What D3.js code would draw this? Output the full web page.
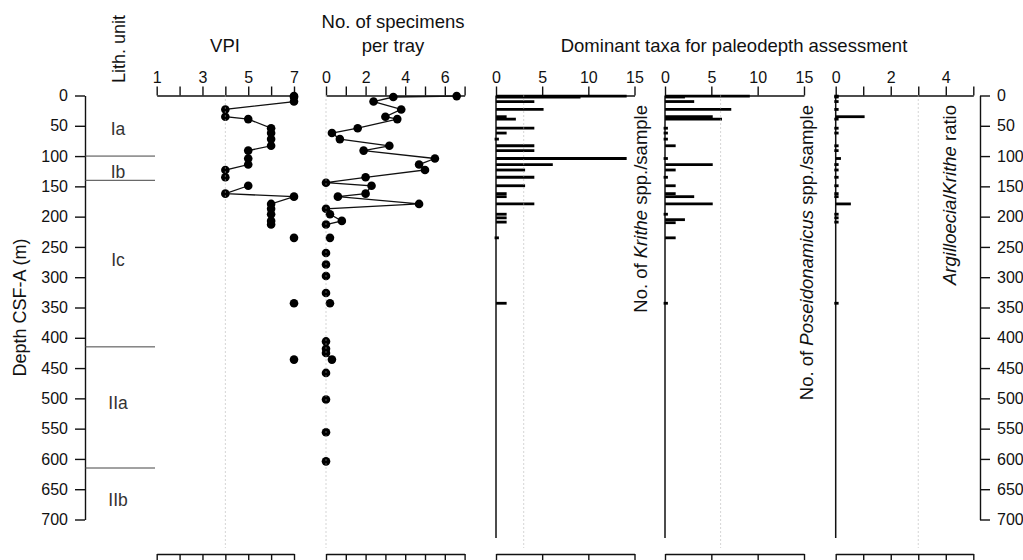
<!DOCTYPE html>
<html>
<head>
<meta charset="utf-8">
<script src="https://cdn.jsdelivr.net/npm/d3@7"></script>
<style>
  body { margin: 0; background: #fff; }
  svg { display: block; font-family: "Liberation Sans", Arial, Helvetica, sans-serif; }
</style>
</head>
<body>
<svg id="chart" width="1023" height="560"></svg>
<script>
// ---- Data -------------------------------------------------------------
// Core-catcher samples (depth, m CSF-A) with visual preservation index and specimen counts
const sampleDepth = [1, 2.5, 10, 23, 35, 39, 54, 62, 72, 83, 91, 104, 114, 123, 135, 144, 149, 162, 167, 179,
                     187, 196, 207, 213, 235, 260, 279, 298, 326, 343, 406, 418, 425, 436, 458, 502, 556, 604];
const vpi = [7, 7, 7, 4, 4, 5, 6, 6, 6, 6, 5, 5, 5, 4, 4, null, 5, 4, 7, 6,
             6, 6, 6, 6, 7, null, null, null, null, 7, null, null, null, 7, null, null, null, null];
const specimens = [6.6, 3.4, 2.4, 3.8, 3.0, 3.6, 1.6, 0.3, 0.7, 3.2, 1.9, 5.5, 4.7, 5.0, 2.0, 0, 2.3, 2.0, 0.6, 4.7,
                   0, 0.2, 0.8, 0, 0.2, 0, 0, 0, 0, 0.2, 0, 0, 0, 0.3, 0, 0, 0, 0];

// Krithe spp. per sample
const kritheDepth = [1, 2.5, 10, 23, 35, 39, 54, 62, 72, 83, 91, 104, 114, 123, 135, 149, 162, 167, 179, 196, 202, 209, 235, 343];
const kritheCount = [14, 9, 4, 5, 1, 2, 4, 1, 0, 4, 4, 14, 6, 3, 4, 3, 1, 1, 4, 1, 1, 1, 0, 1];

// Poseidonamicus spp. per sample
const poseiDepth = [1, 2.5, 10, 23, 35, 39, 54, 62, 72, 83, 104, 114, 123, 135, 149, 162, 167, 179, 196, 205, 210, 235, 343];
const poseiCount = [9, 2, 3, 7, 5, 6, 0, 0, 0, 1, 0, 5, 1, 0, 1, 1, 3, 5, 0, 2, 1, 1, 0];

// Argilloecia / Krithe ratio
const ratioDepth = [1, 2.5, 10, 23, 35, 39, 54, 62, 83, 91, 104, 114, 123, 135, 149, 162, 167, 179, 196, 202, 209, 343];
const ratioValue = [0, 0, 0, 0, 1, 0, 0, 0, 0, 0, 0.14, 0, 0, 0, 0, 0, 0, 0.5, 0, 0, 0, 0];

// Lithologic units
const unitNames = ["Ia", "Ib", "Ic", "IIa", "IIb"];
const unitLabelDepth = [55, 126, 271, 508, 667];
const unitBoundaries = [100, 140, 415, 615];

// Axis ticks
const depthTicks = d3.range(0, 701, 50);
const vpiTicks = [1, 2, 3, 4, 5, 6, 7], vpiLabels = [1, 3, 5, 7];
const specTicks = [0, 1, 2, 3, 4, 5, 6, 7], specLabels = [0, 2, 4, 6];
const countTicks = [0, 5, 10, 15];
const ratioTicks = [0, 1, 2, 3, 4, 5], ratioLabels = [0, 2, 4];

// Reference lines
const vpiRef = 4, specRef = 0, kritheRef = 3, poseiRef = 6, ratioRef = 3;

// ---- Layout -----------------------------------------------------------
const svg = d3.select("#chart");
const TOP = 95.5, BOTTOM_AXIS = 554, REF_END = 548, BAR_AXIS_END = 538;
const ink = "#111";
const TICK_FONT = 16, TITLE_FONT = 18.5;

const y = d3.scaleLinear().domain([0, 700]).range([TOP, 519.5]);
const xVpi = d3.scaleLinear().domain([1, 7]).range([156.7, 294]);
const xSpec = d3.scaleLinear().domain([0, 7]).range([326, 464.6]);
const xKr = d3.scaleLinear().domain([0, 15]).range([496, 634.5]);
const xPo = d3.scaleLinear().domain([0, 15]).range([665, 804]);
const xRa = d3.scaleLinear().domain([0, 5]).range([835.7, 973.3]);

function styleAxis(g, size) {
  g.attr("font-family", null).attr("font-size", null);
  g.selectAll("path.domain").attr("stroke", ink).attr("stroke-width", 1.4);
  g.selectAll(".tick line").attr("stroke", ink).attr("stroke-width", 1.4);
  g.selectAll(".tick text").attr("fill", ink).style("font-size", size + "px");
}

function topAxis(scale, ticks, labels) {
  const g = svg.append("g").attr("transform", `translate(0,${TOP})`)
    .call(d3.axisTop(scale).tickValues(ticks).tickSize(9).tickSizeOuter(0).tickPadding(4)
      .tickFormat(d => labels.includes(d) ? d : ""));
  styleAxis(g, TICK_FONT);
}
function bottomAxis(scale, ticks) {
  const g = svg.append("g").attr("transform", `translate(0,${BOTTOM_AXIS})`)
    .call(d3.axisBottom(scale).tickValues(ticks).tickSize(9).tickSizeOuter(0).tickFormat(""));
  styleAxis(g, TICK_FONT);
}

// ---- Depth axes -------------------------------------------------------
const leftAx = svg.append("g").attr("transform", "translate(85,0)")
  .call(d3.axisLeft(y).tickValues(depthTicks).tickSize(10).tickSizeOuter(0).tickPadding(7));
styleAxis(leftAx, TICK_FONT);
const rightAx = svg.append("g").attr("transform", "translate(980,0)")
  .call(d3.axisRight(y).tickValues(depthTicks).tickSize(10).tickSizeOuter(0).tickPadding(7));
styleAxis(rightAx, TICK_FONT);

svg.append("text")
  .attr("transform", `translate(26,${(y(0) + y(700)) / 2}) rotate(-90)`)
  .attr("text-anchor", "middle").attr("fill", ink).style("font-size", "18px")
  .text("Depth CSF-A (m)");

// ---- Lithologic units -------------------------------------------------
svg.append("text")
  .attr("transform", "translate(125,83) rotate(-90)")
  .attr("fill", ink).style("font-size", "18px").text("Lith. unit");

svg.selectAll("line.unit").data(unitBoundaries).join("line").attr("class", "unit")
  .attr("x1", 85).attr("x2", 155).attr("y1", d => y(d)).attr("y2", d => y(d))
  .attr("stroke", "#444").attr("stroke-width", 1);

svg.selectAll("text.unit").data(unitNames).join("text").attr("class", "unit")
  .attr("x", 118).attr("y", (d, i) => y(unitLabelDepth[i])).attr("dy", "0.35em")
  .attr("text-anchor", "middle").attr("fill", "#333").style("font-size", "17.5px")
  .text(d => d);

// ---- Titles -----------------------------------------------------------
const titles = [
  { x: 225, y: 52, t: "VPI" },
  { x: 393, y: 28, t: "No. of specimens" },
  { x: 393, y: 52, t: "per tray" },
  { x: 734, y: 52, t: "Dominant taxa for paleodepth assessment" }
];
svg.selectAll("text.title").data(titles).join("text").attr("class", "title")
  .attr("x", d => d.x).attr("y", d => d.y).attr("text-anchor", "middle")
  .attr("fill", ink).style("font-size", TITLE_FONT + "px").text(d => d.t);

// ---- Axes of the data panels -----------------------------------------
topAxis(xVpi, vpiTicks, vpiLabels);       bottomAxis(xVpi, vpiTicks);
topAxis(xSpec, specTicks, specLabels);    bottomAxis(xSpec, specTicks);
topAxis(xKr, countTicks, countTicks);     bottomAxis(xKr, countTicks);
topAxis(xPo, countTicks, countTicks);     bottomAxis(xPo, countTicks);
topAxis(xRa, ratioTicks, ratioLabels);    bottomAxis(xRa, ratioTicks);

// Baselines of the bar panels
[xKr, xPo, xRa].forEach(sc => {
  svg.append("line").attr("x1", sc(0)).attr("x2", sc(0)).attr("y1", TOP).attr("y2", BAR_AXIS_END)
    .attr("stroke", ink).attr("stroke-width", 1.5);
});

// ---- Point series with connecting lines ------------------------------
function series(depths, values) {
  const out = [];
  let prev = null;
  depths.forEach((d, i) => {
    const v = values[i];
    if (v === null) { out.push(null); prev = null; return; }
    if (prev !== null && d - prev > 15) out.push(null);
    out.push({ d, v });
    prev = d;
  });
  return out;
}

function drawPoints(scale, depths, values) {
  const pts = series(depths, values);
  const line = d3.line().defined(p => p !== null).x(p => scale(p.v)).y(p => y(p.d));
  svg.append("path").datum(pts).attr("d", line)
    .attr("fill", "none").attr("stroke", ink).attr("stroke-width", 1.3);
  svg.append("g").selectAll("circle").data(pts.filter(p => p !== null)).join("circle")
    .attr("cx", p => scale(p.v)).attr("cy", p => y(p.d)).attr("r", 4.3).attr("fill", "#000");
}
drawPoints(xVpi, sampleDepth, vpi);
drawPoints(xSpec, sampleDepth, specimens);

// ---- Bar series -------------------------------------------------------
function drawBars(scale, depths, values) {
  svg.append("g").selectAll("line").data(depths).join("line")
    .attr("x1", scale(0) + 1.5).attr("x2", (d, i) => scale(values[i]))
    .attr("y1", d => y(d)).attr("y2", d => y(d))
    .attr("stroke", "#000").attr("stroke-width", 2.8).attr("stroke-linecap", "square");
}
drawBars(xKr, kritheDepth, kritheCount);
drawBars(xPo, poseiDepth, poseiCount);
drawBars(xRa, ratioDepth, ratioValue);

// ---- Dotted reference lines (drawn over the marks) -------------------
[[xVpi, vpiRef], [xSpec, specRef], [xKr, kritheRef], [xPo, poseiRef], [xRa, ratioRef]].forEach(([sc, v]) => {
  svg.append("line").attr("x1", sc(v)).attr("x2", sc(v)).attr("y1", TOP).attr("y2", REF_END)
    .attr("stroke", "#aaa").attr("stroke-width", 1).attr("stroke-dasharray", "1 3");
});

// ---- Rotated panel labels --------------------------------------------
function rotatedLabel(x, parts) {
  const t = svg.append("text")
    .attr("transform", `translate(${x},105) rotate(-90)`)
    .attr("text-anchor", "end").attr("fill", ink).style("font-size", TITLE_FONT + "px");
  parts.forEach(([s, it]) => t.append("tspan").attr("font-style", it ? "italic" : null).text(s));
}
rotatedLabel(647, [["No. of ", false], ["Krithe", true], [" spp./sample", false]]);
rotatedLabel(813, [["No. of ", false], ["Poseidonamicus", true], [" spp./sample", false]]);
rotatedLabel(956, [["Argilloecia", true], ["/", false], ["Krithe", true], [" ratio", false]]);
</script>
</body>
</html>
